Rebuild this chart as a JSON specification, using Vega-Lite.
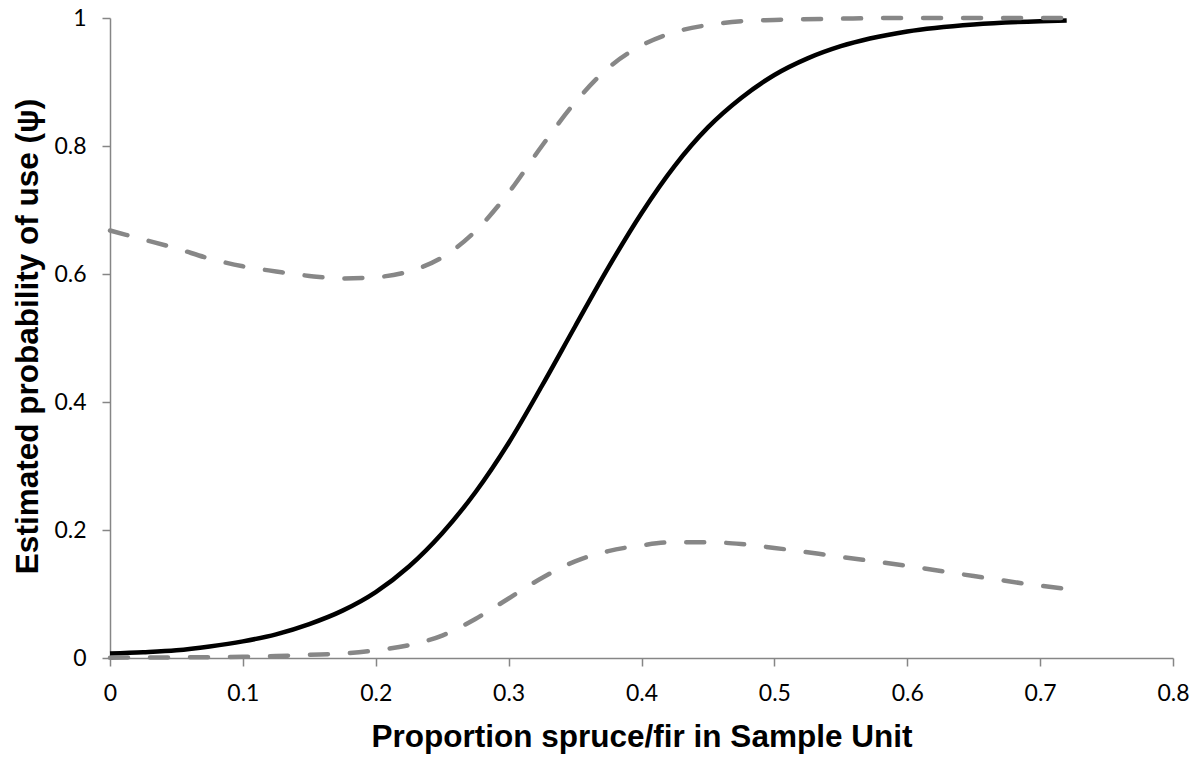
{
  "$schema": "https://vega.github.io/schema/vega-lite/v6.json",
  "width": 1063,
  "height": 640,
  "autosize": {"type": "none"},
  "padding": {"left": 110, "top": 18, "right": 27, "bottom": 99},
  "background": "white",
  "config": {
    "view": {"stroke": null},
    "axis": {
      "grid": false,
      "domainColor": "#868686",
      "domainWidth": 1.5,
      "tickColor": "#868686",
      "tickWidth": 1.5,
      "tickSize": 8,
      "labelFont": "Lato",
      "labelFontSize": 23,
      "labelColor": "#000000",
      "labelPadding": 16,
      "titleFont": "Liberation Sans",
      "titleFontWeight": "bold",
      "titleFontSize": 31.5,
      "titleColor": "#000000"
    }
  },
  "data": {
    "values": [
      {"x": 0, "y": 0.007, "series": "est"},
      {"x": 0.025, "y": 0.009, "series": "est"},
      {"x": 0.05, "y": 0.012, "series": "est"},
      {"x": 0.075, "y": 0.018, "series": "est"},
      {"x": 0.1, "y": 0.026, "series": "est"},
      {"x": 0.125, "y": 0.037, "series": "est"},
      {"x": 0.15, "y": 0.053, "series": "est"},
      {"x": 0.175, "y": 0.074, "series": "est"},
      {"x": 0.2, "y": 0.103, "series": "est"},
      {"x": 0.225, "y": 0.143, "series": "est"},
      {"x": 0.25, "y": 0.195, "series": "est"},
      {"x": 0.275, "y": 0.259, "series": "est"},
      {"x": 0.3, "y": 0.336, "series": "est"},
      {"x": 0.325, "y": 0.425, "series": "est"},
      {"x": 0.35, "y": 0.518, "series": "est"},
      {"x": 0.375, "y": 0.61, "series": "est"},
      {"x": 0.4, "y": 0.695, "series": "est"},
      {"x": 0.425, "y": 0.769, "series": "est"},
      {"x": 0.45, "y": 0.829, "series": "est"},
      {"x": 0.475, "y": 0.875, "series": "est"},
      {"x": 0.5, "y": 0.911, "series": "est"},
      {"x": 0.525, "y": 0.937, "series": "est"},
      {"x": 0.55, "y": 0.956, "series": "est"},
      {"x": 0.6, "y": 0.979, "series": "est"},
      {"x": 0.65, "y": 0.99, "series": "est"},
      {"x": 0.7, "y": 0.995, "series": "est"},
      {"x": 0.72, "y": 0.996, "series": "est"},

      {"x": 0, "y": 0.668, "series": "upper"},
      {"x": 0.025, "y": 0.654, "series": "upper"},
      {"x": 0.05, "y": 0.64, "series": "upper"},
      {"x": 0.075, "y": 0.624, "series": "upper"},
      {"x": 0.1, "y": 0.612, "series": "upper"},
      {"x": 0.125, "y": 0.604, "series": "upper"},
      {"x": 0.15, "y": 0.597, "series": "upper"},
      {"x": 0.175, "y": 0.593, "series": "upper"},
      {"x": 0.2, "y": 0.595, "series": "upper"},
      {"x": 0.225, "y": 0.604, "series": "upper"},
      {"x": 0.25, "y": 0.626, "series": "upper"},
      {"x": 0.275, "y": 0.667, "series": "upper"},
      {"x": 0.3, "y": 0.727, "series": "upper"},
      {"x": 0.325, "y": 0.8, "series": "upper"},
      {"x": 0.35, "y": 0.868, "series": "upper"},
      {"x": 0.375, "y": 0.922, "series": "upper"},
      {"x": 0.4, "y": 0.957, "series": "upper"},
      {"x": 0.425, "y": 0.978, "series": "upper"},
      {"x": 0.45, "y": 0.989, "series": "upper"},
      {"x": 0.475, "y": 0.995, "series": "upper"},
      {"x": 0.5, "y": 0.997, "series": "upper"},
      {"x": 0.55, "y": 0.999, "series": "upper"},
      {"x": 0.6, "y": 1.0, "series": "upper"},
      {"x": 0.72, "y": 1.0, "series": "upper"},

      {"x": 0, "y": 0.0005, "series": "lower"},
      {"x": 0.05, "y": 0.001, "series": "lower"},
      {"x": 0.1, "y": 0.002, "series": "lower"},
      {"x": 0.125, "y": 0.003, "series": "lower"},
      {"x": 0.15, "y": 0.005, "series": "lower"},
      {"x": 0.175, "y": 0.007, "series": "lower"},
      {"x": 0.2, "y": 0.012, "series": "lower"},
      {"x": 0.225, "y": 0.02, "series": "lower"},
      {"x": 0.25, "y": 0.035, "series": "lower"},
      {"x": 0.275, "y": 0.061, "series": "lower"},
      {"x": 0.3, "y": 0.093, "series": "lower"},
      {"x": 0.325, "y": 0.125, "series": "lower"},
      {"x": 0.35, "y": 0.151, "series": "lower"},
      {"x": 0.375, "y": 0.167, "series": "lower"},
      {"x": 0.4, "y": 0.176, "series": "lower"},
      {"x": 0.425, "y": 0.181, "series": "lower"},
      {"x": 0.45, "y": 0.181, "series": "lower"},
      {"x": 0.475, "y": 0.178, "series": "lower"},
      {"x": 0.5, "y": 0.172, "series": "lower"},
      {"x": 0.55, "y": 0.158, "series": "lower"},
      {"x": 0.6, "y": 0.144, "series": "lower"},
      {"x": 0.65, "y": 0.128, "series": "lower"},
      {"x": 0.7, "y": 0.113, "series": "lower"},
      {"x": 0.72, "y": 0.108, "series": "lower"}
    ]
  },
  "encoding": {
    "x": {
      "field": "x",
      "type": "quantitative",
      "scale": {"domain": [0, 0.8], "nice": false, "zero": false},
      "axis": {
        "title": "Proportion spruce/fir in Sample Unit",
        "values": [0, 0.1, 0.2, 0.3, 0.4, 0.5, 0.6, 0.7, 0.8],
        "format": "~g",
        "titleY": 88,
        "titleBaseline": "alphabetic",
        "labelFlush": false
      }
    },
    "y": {
      "field": "y",
      "type": "quantitative",
      "scale": {"domain": [0, 1], "nice": false},
      "axis": {
        "title": "Estimated probability of use (ψ)",
        "values": [0, 0.2, 0.4, 0.6, 0.8, 1],
        "format": "~g",
        "titleX": -73,
        "titleY": 318,
        "titleAngle": -90,
        "titleAlign": "center",
        "titleBaseline": "alphabetic",
        "labelFlush": false
      }
    }
  },
  "layer": [
    {
      "transform": [{"filter": "datum.series === 'est'"}],
      "mark": {"type": "line", "color": "#000000", "strokeWidth": 4.5, "interpolate": "monotone"},
      "encoding": {}
    },
    {
      "transform": [{"filter": "datum.series === 'upper'"}],
      "mark": {"type": "line", "color": "#878787", "strokeWidth": 4.5, "strokeDash": [18, 22], "strokeCap": "round", "interpolate": "monotone"},
      "encoding": {}
    },
    {
      "transform": [{"filter": "datum.series === 'lower'"}],
      "mark": {"type": "line", "color": "#878787", "strokeWidth": 4.5, "strokeDash": [18, 22], "strokeCap": "round", "interpolate": "monotone"},
      "encoding": {}
    }
  ]
}
